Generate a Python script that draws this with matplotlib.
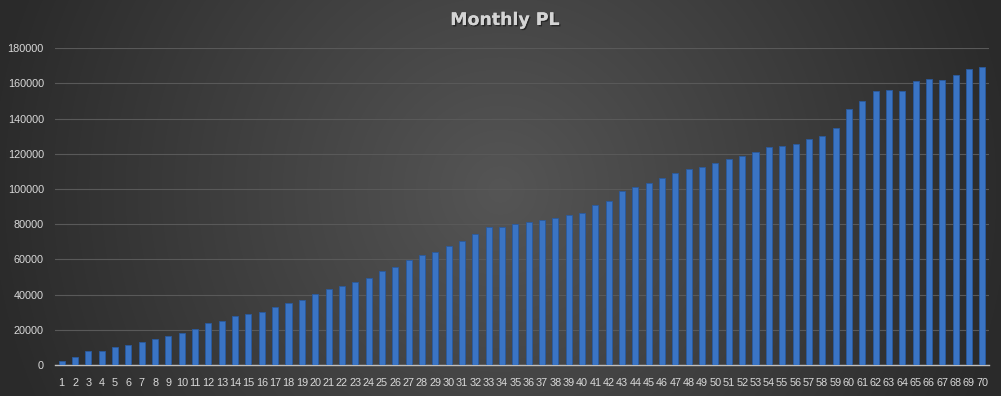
import numpy as np
import matplotlib
matplotlib.use("Agg")
import matplotlib.pyplot as plt
import matplotlib.patheffects as pe

months = [str(i) for i in range(1, 71)]
pl = [2000, 4500, 8000, 8000, 10000, 11300, 13000, 14800, 16500, 18300,
      20300, 24000, 25000, 28000, 29000, 30200, 33000, 35000, 37000, 40500,
      43300, 45000, 47200, 49500, 53500, 55700, 59700, 62300, 64200, 67500,
      70500, 74300, 78300, 78300, 80100, 81100, 82400, 83600, 85000, 86200,
      90800, 93200, 98900, 101200, 103500, 106300, 109200, 111200, 112600, 114800,
      117100, 119000, 121100, 124100, 124700, 125800, 128500, 130200, 134700, 145500,
      150100, 155800, 156300, 155800, 161500, 162600, 162000, 164900, 168300, 169400]
y_ticks = [0, 20000, 40000, 60000, 80000, 100000, 120000, 140000, 160000, 180000]
title = "Monthly PL"

W, H = 1001, 396
fig = plt.figure(figsize=(W / 100, H / 100), dpi=100)

# radial gradient background
bg = fig.add_axes([0, 0, 1, 1])
yy, xx = np.mgrid[0:H, 0:W]
r = np.sqrt(((xx - 500) / 520.0) ** 2 + ((yy - 190) / 520.0) ** 2)
r = np.clip(r, 0, 1)
c0 = np.array([0x55, 0x55, 0x55]) / 255
c1 = np.array([0x2a, 0x2a, 0x2a]) / 255
img = c0[None, None, :] * (1 - r[..., None]) + c1[None, None, :] * r[..., None]
bg.imshow(img, aspect="auto", extent=[0, 1, 0, 1], origin="upper")
bg.set_axis_off()

ax = fig.add_axes([55 / W, (H - 365) / H, (989 - 55) / W, (365 - 48.3) / H])
ax.patch.set_alpha(0)
x = np.arange(len(pl))
ax.bar(x, pl, width=0.45, color="#3a74c4", edgecolor="#2a5a9e", linewidth=0.6, zorder=3)
ax.set_xlim(-0.5, len(pl) - 0.5)
ax.set_ylim(0, 180000)
ax.set_yticks(y_ticks)
ax.set_yticklabels([str(v) for v in y_ticks])
ax.set_xticks(x)
ax.set_xticklabels(months)
ax.grid(axis="y", color="#595959", linewidth=0.8, zorder=0)
for s in ["top", "right", "left"]:
    ax.spines[s].set_visible(False)
ax.spines["bottom"].set_color("#bfbfbf")
ax.spines["bottom"].set_linewidth(1.0)
ax.tick_params(axis="both", length=0, colors="#d9d9d9", labelsize=7.8)
ax.tick_params(axis="x", pad=9)
ax.tick_params(axis="y", pad=8)
for lab in ax.get_xticklabels() + ax.get_yticklabels():
    lab.set_fontfamily("Liberation Sans")

fig.text(505 / W, 1 - 20 / H, title, ha="center", va="center", fontsize=12.5,
         fontweight="bold", color="#d4d4d4", family="DejaVu Sans",
         path_effects=[pe.withSimplePatchShadow(offset=(1, -1), shadow_rgbFace="#1a1a1a", alpha=0.7), pe.Normal()])

fig.savefig("out.png", dpi=100)
